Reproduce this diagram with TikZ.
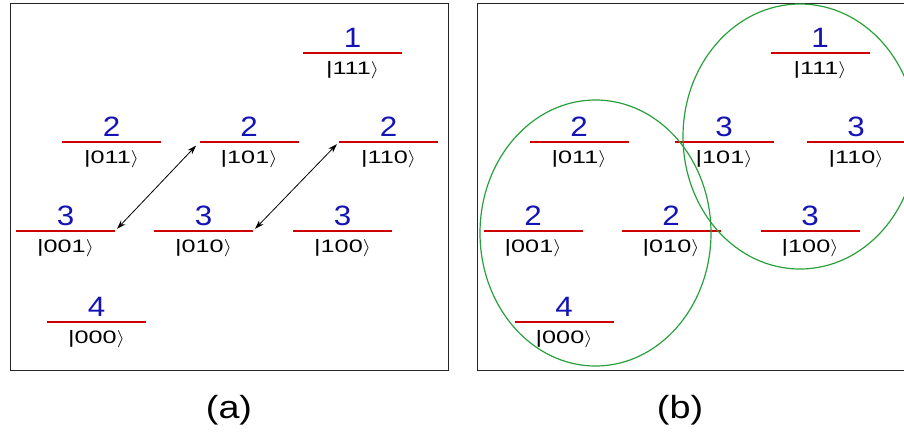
\documentclass[tikz,border=0pt]{standalone}
\usepackage{fontspec}
\setmainfont{Liberation Sans}
\usetikzlibrary{arrows.meta,shapes.geometric}
\definecolor{numblue}{RGB}{20,20,180}
\definecolor{levred}{RGB}{205,0,0}
\definecolor{ellgreen}{RGB}{40,160,60}
\tikzset{
  panelframe/.style={draw=black!85, line width=1.4pt},
  levline/.style={draw=levred, line width=1.8pt},
  numtext/.style={anchor=base, inner sep=0pt, text=numblue, font=\fontsize{28}{30}\selectfont},
  kettext/.style={anchor=base, inner sep=0pt, font=\fontsize{18}{20}\selectfont},
  captext/.style={anchor=base, inner sep=0pt, font=\fontsize{32}{34}\selectfont},
  transarrow/.style={draw=black, line width=0.8pt, {Stealth[length=9pt,width=6pt]}-{Stealth[length=9pt,width=6pt]}},
  groupell/.style={draw=ellgreen, line width=1.2pt}
}
\newcommand{\kt}[1]{\scalebox{1.4}[1]{|#1}\scalebox{1.2}[1]{$\rangle$}}
% \lev{name}{cx}{y}{number}{ket}
\newcommand{\lev}[5]{%
  \coordinate (#1L) at (#2-49.5,#3);
  \coordinate (#1R) at (#2+49.5,#3);
  \draw[levline] (#1L) -- (#1R);
  \node[numtext] (#1n) at (#2,#3-6) {\scalebox{1.12}[1]{#4}};
  \node[kettext] (#1k) at (#2,#3+21) {\kt{#5}};
}
\begin{document}
\begin{tikzpicture}[x=1pt,y=-1pt]
\useasboundingbox (0,0) rectangle (904,439);
\clip (0,0) rectangle (904,439);
% panel (a)
\node[panelframe, rectangle, minimum width=438pt, minimum height=367pt, inner sep=0pt, anchor=north west] (fa) at (10,3) {};
\lev{a111}{352.5}{53}{1}{111}
\lev{a011}{111.5}{142}{2}{011}
\lev{a101}{249}{142}{2}{101}
\lev{a110}{388.5}{142}{2}{110}
\lev{a001}{65.5}{231}{3}{001}
\lev{a010}{203.5}{231}{3}{010}
\lev{a100}{342.5}{231}{3}{100}
\lev{a000}{96.5}{322}{4}{000}
\draw[transarrow, shorten <=3pt, shorten >=5pt] (a001R) -- (a101L);
\draw[transarrow, shorten <=3pt, shorten >=3pt] (a110L) -- (a010R);
\node[captext] (capa) at (229,418) {\scalebox{1.18}[1]{(a)}};
% panel (b)
\node[panelframe, rectangle, minimum width=440pt, minimum height=367pt, inner sep=0pt, anchor=north west] (fb) at (477,3) {};
\lev{b111}{820}{53}{1}{111}
\lev{b011}{579}{142}{2}{011}
\lev{b101}{724}{142}{3}{101}
\lev{b110}{856}{142}{3}{110}
\lev{b001}{533}{231}{2}{001}
\lev{b010}{671}{231}{2}{010}
\lev{b100}{810}{231}{3}{100}
\lev{b000}{564}{322}{4}{000}
\node[groupell, ellipse, minimum width=231pt, minimum height=266pt, inner sep=0pt] (gl) at (595.5,233) {};
\node[groupell, ellipse, minimum width=234pt, minimum height=265pt, inner sep=0pt] (gr) at (800,136.5) {};
\node[captext] (capb) at (680,418) {\scalebox{1.18}[1]{(b)}};
\end{tikzpicture}
\end{document}
